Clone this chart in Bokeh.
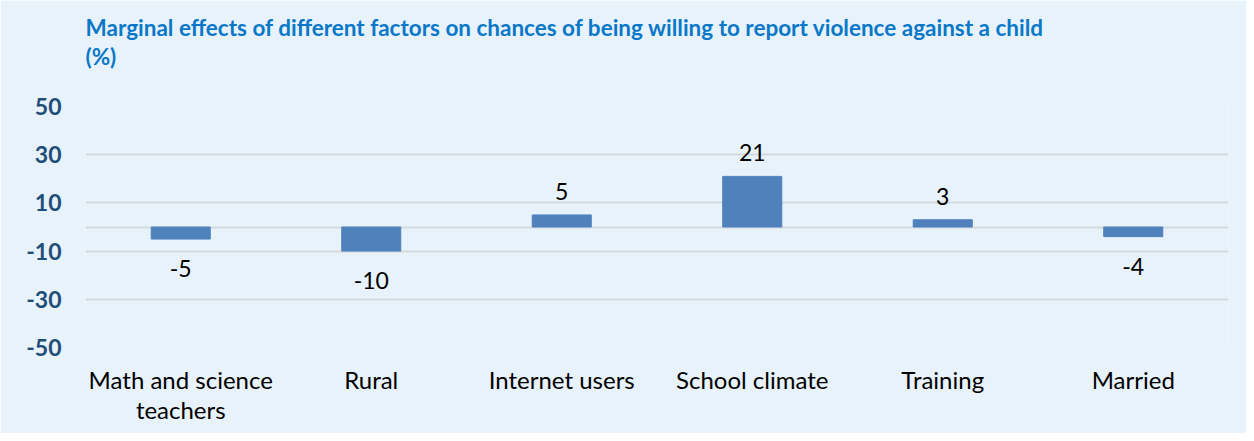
from bokeh.plotting import figure
from bokeh.models import FixedTicker, ColumnDataSource, Title
from bokeh.core.properties import value
from bokeh.embed import file_html
from bokeh.resources import INLINE

categories = ["Math and science\nteachers", "Rural", "Internet users", "School climate", "Training", "Married"]
values = [-5, -10, 5, 21, 3, -4]
y_ticks = [-50, -30, -10, 10, 30, 50]
grid_ticks = [-50, -30, -10, 0, 10, 30, 50]
title_text = "Marginal effects of different factors on chances of being willing to report violence against a child\n(%)"

FONT = "Lato"
BG = "#E8F2FA"

p = figure(x_range=categories, y_range=(-50, 50), width=1246, height=433,
           output_backend="svg", toolbar_location=None,
           background_fill_color=BG, border_fill_color=BG,
           min_border_left=85, min_border_right=18, min_border_bottom=86, min_border_top=0)
p.outline_line_color = None

spacer = Title(text=" ", text_font_size="12px", standoff=9, text_color=BG)
p.add_layout(spacer, "above")
t = Title(text=title_text, text_font=FONT, text_font_size="22.5px", text_font_style="bold",
          text_color="#0A78C8", align="left", standoff=22, text_line_height=1.1)
p.add_layout(t, "above")

src = ColumnDataSource(dict(cat=categories, val=values,
                            lab=[str(v) for v in values]))
p.vbar(x="cat", top="val", bottom=0, width=0.31, source=src,
       fill_color="#4F81BD", line_color="#4F81BD")

pos = [i for i, v in enumerate(values) if v >= 0]
neg = [i for i, v in enumerate(values) if v < 0]
p.text(x=[categories[i] for i in pos], y=[values[i] for i in pos],
       text=[str(values[i]) for i in pos], text_align="center", text_baseline="bottom",
       y_offset=-15, text_font=value(FONT), text_font_size="23px", text_color="#000000")
p.text(x=[categories[i] for i in neg], y=[values[i] for i in neg],
       text=[str(values[i]) for i in neg], text_align="center", text_baseline="top",
       y_offset=21, text_font=value(FONT), text_font_size="23px", text_color="#000000")

p.yaxis.ticker = FixedTicker(ticks=y_ticks)
p.yaxis.major_label_overrides = {v: str(v) for v in y_ticks}
p.ygrid.ticker = FixedTicker(ticks=grid_ticks)
p.ygrid.grid_line_color = "#D6D9DC"
p.ygrid.grid_line_width = 2
p.xgrid.grid_line_color = None

for ax in (p.xaxis, p.yaxis):
    ax.axis_line_color = None
    ax.major_tick_line_color = None
    ax.minor_tick_line_color = None
    ax.major_tick_out = 0
    ax.major_tick_in = 0

p.yaxis.major_label_text_font = FONT
p.yaxis.major_label_text_font_size = "23px"
p.yaxis.major_label_text_font_style = "bold"
p.yaxis.major_label_text_color = "#1F4E79"
p.yaxis.major_label_standoff = 24

p.xaxis.major_label_text_font = FONT
p.xaxis.major_label_text_font_size = "24px"
p.xaxis.major_label_text_color = "#000000"
p.xaxis.major_label_text_line_height = 1.05
p.xaxis.major_label_standoff = 17

open("out.html", "w").write(file_html(p, INLINE))
